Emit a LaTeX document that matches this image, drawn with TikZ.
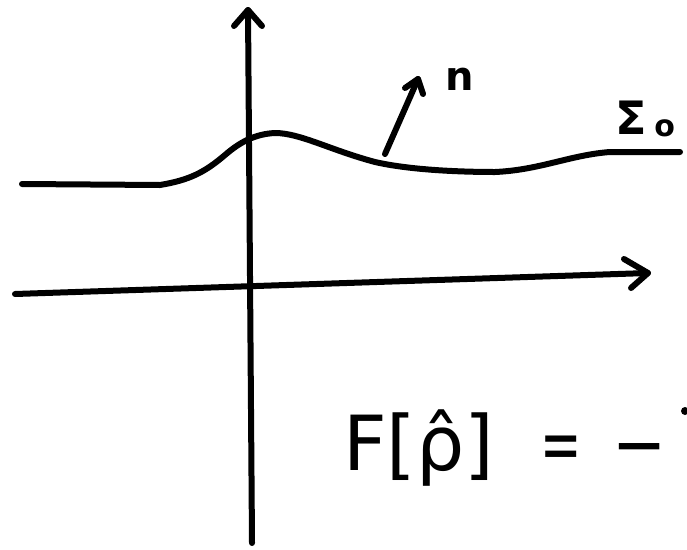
\documentclass[tikz,border=0pt]{standalone}
\usepackage{fontspec}
\setmainfont{DejaVu Sans}
\usetikzlibrary{calc}
\begin{document}
\begin{tikzpicture}[x=1pt,y=-1pt,
  ink/.style={line width=6pt,line cap=round,line join=round,black},
  lbl/.style={inner sep=0pt,text=black},
  big/.style={font=\fontsize{76}{76}\selectfont}]
\useasboundingbox (0,0) rectangle (687,549);
% vertical axis
\coordinate (vb) at (252,543);
\coordinate (vt) at (248,10);
\draw[ink] (vb) -- (vt);
\draw[ink] (234,26) -- (vt) -- (262,26);
% horizontal axis
\coordinate (hl) at (15,294);
\coordinate (hr) at (648,273);
\draw[ink] (hl) -- (hr);
\draw[ink] (624,259) -- (hr) -- (631,288);
% surface Sigma_0
\coordinate (s0) at (22,184);
\coordinate (s1) at (680,152);
\draw[ink] (s0) -- (160,185) .. controls (190,180) and (205,172) .. (225,155)
  .. controls (240,142) and (255,134) .. (275,133)
  .. controls (300,133) and (330,150) .. (375,162)
  .. controls (410,170) and (460,172) .. (495,172)
  .. controls (540,170) and (570,155) .. (610,152) -- (s1);
% normal n
\coordinate (na) at (385,154);
\coordinate (nb) at (418,79);
\draw[ink] (na) -- (nb);
\draw[ink] (405,88) -- (nb) -- (423,94);
\node[lbl,font=\fontsize{40}{40}\selectfont\bfseries,anchor=base] (n) at (460,90) {n};
\node[lbl,font=\fontsize{46}{46}\selectfont\bfseries,anchor=base west] (sig) at (615,134) {Σ\,\raisebox{-2pt}{\fontsize{30}{30}\selectfont o}};
% formula
\node[lbl,big,anchor=base west] (F) at (343,470) {F[ρ̂]};
\node[lbl,big,anchor=base west] (eq) at (540,470) {\scalebox{0.65}[1]{=}};
\node[lbl,big,anchor=base west] (mi) at (612,470) {\scalebox{0.85}[1]{−}};
\fill (685,411) circle (4);
\end{tikzpicture}
\end{document}
